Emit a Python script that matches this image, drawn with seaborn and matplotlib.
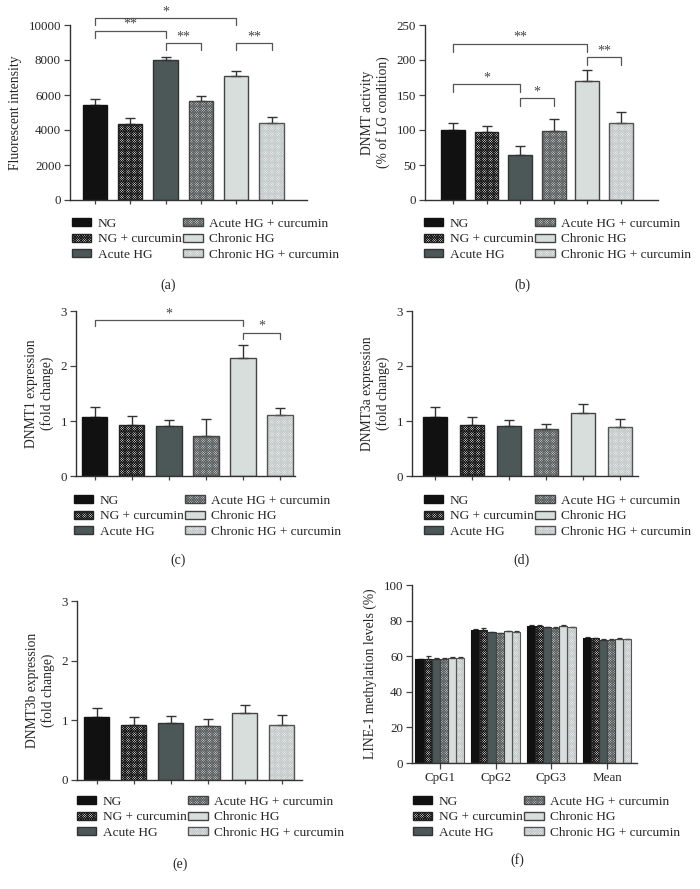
import pandas as pd
import seaborn as sns
import matplotlib.pyplot as plt
from matplotlib.patches import Patch, Rectangle
from matplotlib.legend_handler import HandlerTuple

# dados
grupos = ['NG', 'NG + curcumin', 'Acute HG', 'Acute HG + curcumin',
          'Chronic HG', 'Chronic HG + curcumin']

fluor = [5400, 4330, 7980, 5640, 7060, 4420]
fluor_err = [390, 340, 170, 280, 300, 300]

dnmt_ativ = [100, 96.5, 64.5, 99, 170, 110.5]
dnmt_ativ_err = [10.5, 9, 13, 16, 16, 15.5]

dnmt1 = [1.08, 0.93, 0.91, 0.72, 2.15, 1.11]
dnmt1_err = [0.18, 0.16, 0.11, 0.32, 0.24, 0.12]

dnmt3a = [1.07, 0.92, 0.91, 0.85, 1.15, 0.89]
dnmt3a_err = [0.18, 0.16, 0.11, 0.10, 0.16, 0.15]

dnmt3b = [1.06, 0.92, 0.96, 0.90, 1.12, 0.93]
dnmt3b_err = [0.14, 0.13, 0.12, 0.12, 0.14, 0.16]

sitios = ['CpG1', 'CpG2', 'CpG3', 'Mean']
line1_ng = [58.2, 74.9, 77.1, 70.2]
line1_ng_cur = [58.6, 74.9, 77.0, 70.1]
line1_agudo = [58.6, 73.4, 76.2, 69.1]
line1_agudo_cur = [58.5, 72.8, 76.0, 69.2]
line1_cronico = [59.1, 74.0, 77.0, 69.7]
line1_cronico_cur = [59.1, 73.8, 76.2, 69.6]
line1_err = [[0.4, 0.4, 0.4, 0.4], [1.5, 1.0, 0.4, 0.4], [0.4, 0.4, 0.3, 0.3],
             [0.3, 0.3, 0.4, 0.3], [0.3, 0.3, 0.3, 0.3], [0.3, 0.3, 0.3, 0.3]]

# significancia: (barra1, barra2, altura, queda, texto)
sig_a = [(0, 4, 10380, 380, '*'), (0, 2, 9680, 420, '**'),
         (2, 3, 8950, 400, '**'), (4, 5, 8950, 400, '**')]
sig_b = [(0, 4, 223, 11, '**'), (4, 5, 204, 11, '**'),
         (0, 2, 165, 11, '*'), (2, 3, 145, 11, '*')]
sig_c = [(0, 4, 2.83, 0.11, '*'), (4, 5, 2.60, 0.10, '*')]

# estilo das barras: face, hachura, cor da hachura, borda
faces = ['#111111', '#ffffff', '#4b5857', '#e2e2e2', '#d8dedc', '#f6f7f6']
hatches = [None, 'x' * 14, None, 'x' * 14, None, 'x' * 14]
hcolors = ['#111111', '#111111', '#4b5857', '#5a5f5f', '#d8dedc', '#c4caca']
bordas = ['#111111', '#222222', '#333333', '#444444', '#444444', '#555555']

W, H = 700, 889
sns.set_style('ticks')
plt.rcParams['font.family'] = ['Liberation Serif', 'DejaVu Serif']
plt.rcParams['hatch.linewidth'] = 0.55
plt.rcParams['font.size'] = 10

fig = plt.figure(figsize=(W / 100, H / 100), dpi=100)


def eixo(l, t, r, b):
    return fig.add_axes([l / W, 1 - b / H, (r - l) / W, (b - t) / H])


def estilizar(ax, patch, i, lw=1.0):
    patch.set_facecolor(faces[i])
    patch.set_edgecolor(hcolors[i])
    patch.set_linewidth(0)
    if hatches[i]:
        patch.set_hatch(hatches[i])
    ax.add_patch(Rectangle(patch.get_xy(), patch.get_width(), patch.get_height(),
                           fill=False, edgecolor=bordas[i], lw=lw, zorder=2.5))


def ajustar_eixos(ax, ylim, yticks, xlim):
    ax.set_ylim(*ylim)
    ax.set_yticks(yticks)
    ax.set_xlim(*xlim)
    sns.despine(ax=ax)
    for s in ['left', 'bottom']:
        ax.spines[s].set_color('#333333')
        ax.spines[s].set_linewidth(1.0)
    ax.tick_params(axis='both', length=4, width=0.9, color='#444444',
                   labelsize=9.4, pad=2.5)
    ax.set_xlabel('')


def painel(ax, vals, errs, ylabel, ylim, yticks, xlim, largura, cap):
    sns.barplot(x=grupos, y=vals, hue=grupos, palette=faces, legend=False,
                errorbar=None, width=largura, saturation=1, ax=ax)
    xs = []
    for i, p in enumerate(list(ax.patches)[:len(grupos)]):
        xs.append(p.get_x() + p.get_width() / 2)
        estilizar(ax, p, i)
    ax.errorbar(xs, vals, yerr=[[0] * len(vals), errs], fmt='none',
                ecolor='#333333', elinewidth=1, capsize=cap, capthick=1, zorder=2)
    ajustar_eixos(ax, ylim, yticks, xlim)
    ax.set_xticks(range(len(grupos)))
    ax.set_xticklabels([])
    ax.set_ylabel(ylabel, fontsize=9.8, linespacing=1.1, labelpad=5)
    ax.tick_params(axis='x', length=3)


def corchetes(ax, sig):
    for x1, x2, y, h, txt in sig:
        ax.plot([x1, x1, x2, x2], [y - h, y, y, y - h], color='#555555',
                lw=0.9, clip_on=False)
        ax.text((x1 + x2) / 2, y, txt, ha='center', va='bottom', fontsize=10,
                color='#444444', clip_on=False)


def legenda(x, y):
    handles = [(Patch(facecolor=faces[i], hatch=hatches[i], edgecolor=hcolors[i], lw=0),
                Patch(fill=False, edgecolor=bordas[i], lw=1)) for i in range(len(grupos))]
    fig.legend(handles, grupos, loc='upper left', bbox_to_anchor=(x / W, 1 - y / H),
               ncol=2, frameon=False, fontsize=9.6, handlelength=1.45, handleheight=0.55,
               handletextpad=0.5, columnspacing=0.1, labelspacing=0.25,
               borderpad=0, borderaxespad=0,
               handler_map={tuple: HandlerTuple(ndivide=1)})


# (a)
ax = eixo(70, 25, 307, 200)
painel(ax, fluor, fluor_err, 'Fluorescent intensity', (0, 10000),
       range(0, 10001, 2000), (-0.7, 6.0), 0.69, 3.6)
corchetes(ax, sig_a)
legenda(72, 218)
fig.text(168 / W, 1 - 285 / H, '(a)', ha='center', va='center', fontsize=10)

# (b)
ax = eixo(425, 25, 658, 200)
painel(ax, dnmt_ativ, dnmt_ativ_err, 'DNMT activity\n(% of LG condition)', (0, 250),
       range(0, 251, 50), (-0.83, 6.1), 0.71, 3.6)
corchetes(ax, sig_b)
legenda(424, 218)
fig.text(522 / W, 1 - 285 / H, '(b)', ha='center', va='center', fontsize=10)

# (c)
ax = eixo(76, 311, 295, 476)
painel(ax, dnmt1, dnmt1_err, 'DNMT1 expression\n(fold change)', (0, 3),
       range(0, 4), (-0.5, 5.4), 0.69, 3.6)
corchetes(ax, sig_c)
legenda(74, 495)
fig.text(178 / W, 1 - 560 / H, '(c)', ha='center', va='center', fontsize=10)

# (d)
ax = eixo(412, 311, 638, 476)
painel(ax, dnmt3a, dnmt3a_err, 'DNMT3a expression\n(fold change)', (0, 3),
       range(0, 4), (-0.62, 5.49), 0.65, 3.6)
legenda(424, 495)
fig.text(522 / W, 1 - 560 / H, '(d)', ha='center', va='center', fontsize=10)

# (e)
ax = eixo(77, 601, 302, 780)
painel(ax, dnmt3b, dnmt3b_err, 'DNMT3b expression\n(fold change)', (0, 3),
       range(0, 4), (-0.53, 5.55), 0.68, 3.6)
legenda(77, 796)
fig.text(180 / W, 1 - 864 / H, '(e)', ha='center', va='center', fontsize=10)

# (f)
ax = eixo(412, 585, 637, 763)
series = [line1_ng, line1_ng_cur, line1_agudo, line1_agudo_cur,
          line1_cronico, line1_cronico_cur]
df = pd.DataFrame({
    'sitio': sitios * len(grupos),
    'grupo': [g for g in grupos for _ in sitios],
    'valor': [v for s in series for v in s],
})
sns.barplot(data=df, x='sitio', y='valor', hue='grupo', hue_order=grupos,
            palette=faces, legend=False, errorbar=None, width=0.875,
            saturation=1, ax=ax)
barras = list(ax.containers)
for i, cont in enumerate(barras):
    xs = []
    for p in cont.patches:
        xs.append(p.get_x() + p.get_width() / 2)
        estilizar(ax, p, i, lw=0.8)
    ax.errorbar(xs, series[i], yerr=[[0] * len(sitios), line1_err[i]], fmt='none',
                ecolor='#333333', elinewidth=0.9, capsize=1.8, capthick=0.9, zorder=2)
ajustar_eixos(ax, (0, 100), range(0, 101, 20), (-0.5, 3.54))
ax.set_ylabel('LINE-1 methylation levels (%)', fontsize=9.8, labelpad=5)
legenda(413, 796)
fig.text(517 / W, 1 - 860 / H, '(f)', ha='center', va='center', fontsize=10)

fig.savefig('out.png', dpi=100)
